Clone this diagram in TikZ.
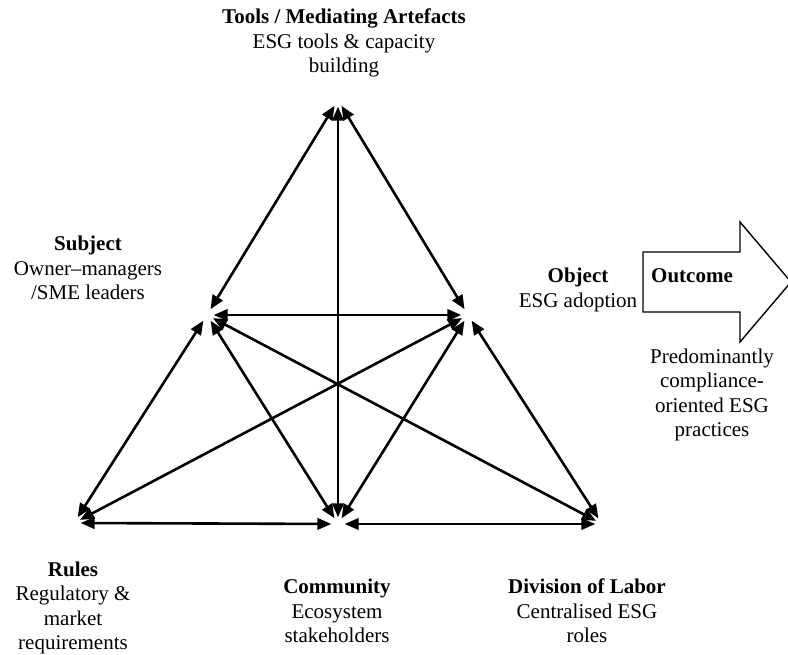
\documentclass[tikz,border=0pt]{standalone}
\usepackage{fontspec}
\setmainfont{Liberation Serif}
\usetikzlibrary{arrows.meta}

\begin{document}
\begin{tikzpicture}[
  x=1pt, y=-1pt,
  >={Triangle[length=14pt,width=11.5pt]},
  vtx/.style ={circle, inner sep=0pt, minimum size=13pt},
  arc/.style ={<->, line width=2.6pt, black},
  lbl/.style ={align=center, inner sep=0pt, font=\fontsize{21}{24.5}\selectfont},
  outc/.style={draw=black, line width=1.4pt, line join=miter}
]
\useasboundingbox (0,0) rectangle (788,655);

% ---- Activity system vertices ----------------------------------------------
\node[vtx] (tools) at (338,100) {};
\node[vtx] (subj)  at (207,315) {};
\node[vtx] (obj)   at (468,315) {};
\node[vtx] (rules) at (74,523)  {};
\node[vtx] (comm)  at (338,524) {};
\node[vtx] (div)   at (602,524) {};

% ---- Two-way links between all elements ------------------------------------
\draw[arc] (tools) -- (subj);
\draw[arc] (tools) -- (obj);
\draw[arc] (tools) -- (comm);

\draw[arc] (subj) -- (obj);
\draw[arc] (subj) -- (rules);
\draw[arc] (subj) -- (comm);
\draw[arc] (subj) -- (div);

\draw[arc] (obj) -- (rules);
\draw[arc] (obj) -- (comm);
\draw[arc] (obj) -- (div);

\draw[arc] (rules) -- (comm);
\draw[arc] (comm) -- (div);

% ---- Element labels ----------------------------------------------------------
\node[lbl] (ltools) at (344,43)  {\textbf{Tools / Mediating Artefacts}\\ESG tools \& capacity\\building};
\node[lbl] (lsubj)  at (88,268)  {\textbf{Subject}\\Owner–managers\\/SME leaders};
\node[lbl] (lobj)   at (578,290) {\textbf{Object}\\ESG adoption};
\node[lbl] (lrules) at (73,608)  {\textbf{Rules}\\Regulatory \&\\market\\requirements};
\node[lbl] (lcomm)  at (337,611) {\textbf{Community}\\Ecosystem\\stakeholders};
\node[lbl] (ldiv)   at (587,611) {\textbf{Division of Labor}\\Centralised ESG\\roles};

% ---- Outcome arrow -----------------------------------------------------------
\draw[outc] (643,252) -- (740,252) -- (740,222) -- (791,282)
  -- (740,342) -- (740,312) -- (643,312) -- cycle;
\node[lbl] (lout) at (692,276) {\textbf{Outcome}};
\node[lbl] (lres) at (712,395) {Predominantly\\compliance-\\oriented ESG\\practices};

\end{tikzpicture}
\end{document}
